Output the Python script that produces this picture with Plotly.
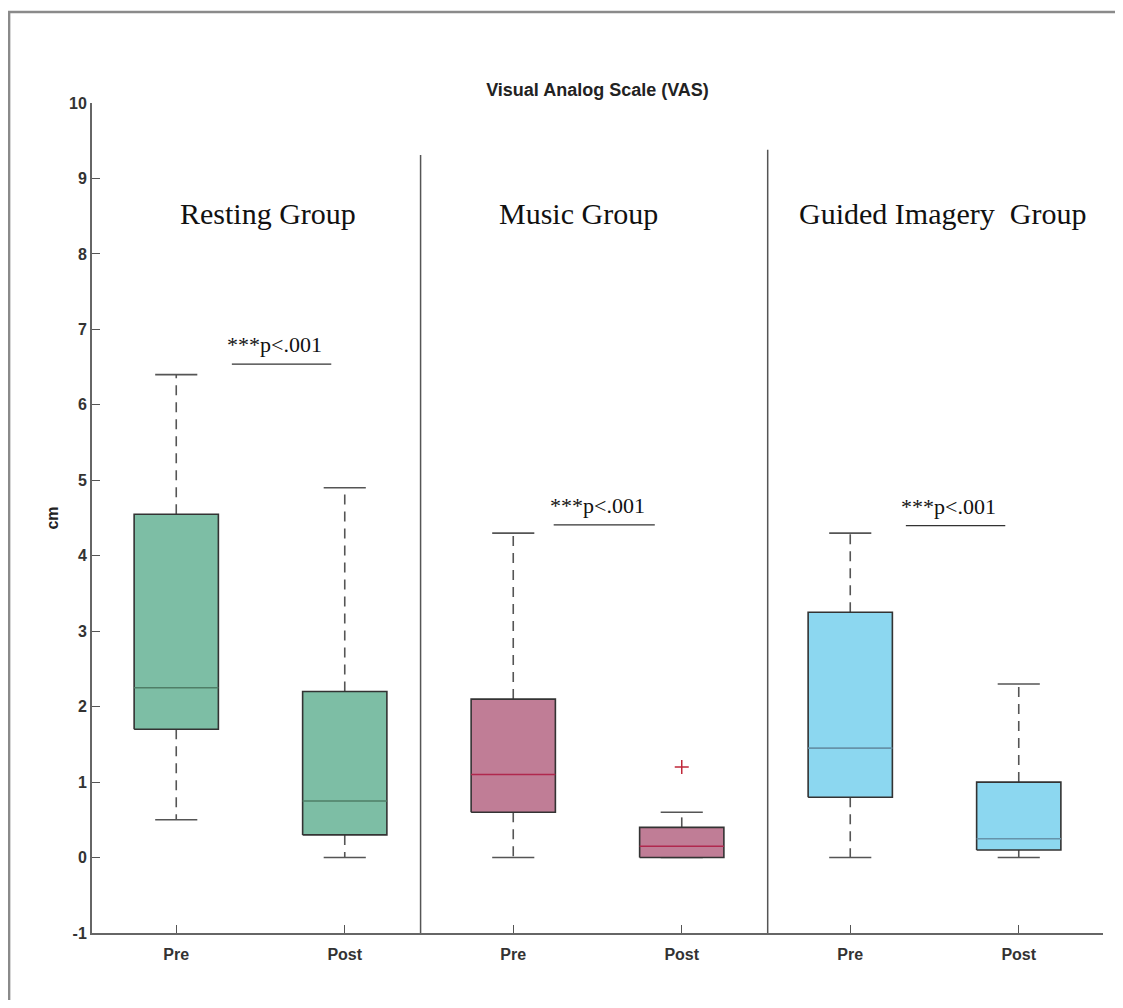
import plotly.graph_objects as go

# ---- data ----
groups = ["Resting Group", "Music Group", "Guided Imagery  Group"]
conditions = ["Pre", "Post", "Pre", "Post", "Pre", "Post"]
positions = [1, 2, 3, 4, 5, 6]
lower_whisker = [0.5, 0.0, 0.0, 0.0, 0.0, 0.0]
q1 = [1.70, 0.30, 0.60, 0.00, 0.80, 0.10]
median = [2.25, 0.75, 1.10, 0.15, 1.45, 0.25]
q3 = [4.55, 2.20, 2.10, 0.40, 3.25, 1.00]
upper_whisker = [6.40, 4.90, 4.30, 0.60, 4.30, 2.30]
outlier_pos = [4]
outlier_val = [1.20]
sig_text = ["***p<.001", "***p<.001", "***p<.001"]
sig_level = [6.54, 4.41, 4.40]
sig_start = [1.33, 3.24, 5.33]
sig_end = [1.92, 3.84, 5.92]
group_label_x = [1.545, 3.39, 5.55]
group_label_y = [8.54, 8.54, 8.54]
divider_x = [2.45, 4.51]
divider_top = [9.31, 9.38]

fills = ["#7DBEA5", "#7DBEA5", "#C07D96", "#C07D96", "#8CD7F0", "#8CD7F0"]
median_colors = ["#4F7E67", "#4F7E67", "#B0284E", "#B0284E", "#6693AA", "#6693AA"]

box_half = 0.25
cap_half = 0.125

fig = go.Figure()

for i, p in enumerate(positions):
    # whiskers (dashed)
    fig.add_trace(go.Scatter(
        x=[p, p, None, p, p], y=[q3[i], upper_whisker[i], None, q1[i], lower_whisker[i]],
        mode="lines", line=dict(color="#555555", width=1.6, dash="10px,7px"),
        hoverinfo="skip", showlegend=False))
    # caps
    fig.add_trace(go.Scatter(
        x=[p - cap_half, p + cap_half, None, p - cap_half, p + cap_half],
        y=[upper_whisker[i], upper_whisker[i], None, lower_whisker[i], lower_whisker[i]],
        mode="lines", line=dict(color="#555555", width=1.6),
        hoverinfo="skip", showlegend=False))
    # box
    fig.add_trace(go.Scatter(
        x=[p - box_half, p + box_half, p + box_half, p - box_half, p - box_half],
        y=[q1[i], q1[i], q3[i], q3[i], q1[i]],
        mode="lines", fill="toself", fillcolor=fills[i],
        line=dict(color="#333333", width=1.6),
        hoverinfo="skip", showlegend=False))
    # median
    fig.add_trace(go.Scatter(
        x=[p - box_half, p + box_half], y=[median[i], median[i]],
        mode="lines", line=dict(color=median_colors[i], width=1.6),
        hoverinfo="skip", showlegend=False))

# outliers
fig.add_trace(go.Scatter(
    x=outlier_pos, y=outlier_val, mode="markers",
    marker=dict(symbol="cross-thin", size=10, line=dict(color="#C0283A", width=1.5)),
    hoverinfo="skip", showlegend=False))

# significance lines
for k in range(len(sig_text)):
    fig.add_trace(go.Scatter(
        x=[sig_start[k], sig_end[k]], y=[sig_level[k], sig_level[k]],
        mode="lines", line=dict(color="#333333", width=1.3),
        hoverinfo="skip", showlegend=False))
    fig.add_annotation(
        x=(sig_start[k] + sig_end[k]) / 2 - 0.04, y=sig_level[k], text=sig_text[k],
        showarrow=False, yanchor="bottom", yshift=5,
        font=dict(family="Liberation Serif", size=22, color="#111111"))

# group labels
for k, g in enumerate(groups):
    fig.add_annotation(
        x=group_label_x[k], y=group_label_y[k], text=g.replace("  ", "&nbsp; "),
        showarrow=False, font=dict(family="Liberation Serif", size=30, color="#111111"))

# dividers
for k, dx in enumerate(divider_x):
    fig.add_shape(type="line", xref="x", yref="y", x0=dx, x1=dx, y0=-1, y1=divider_top[k],
                  line=dict(color="#555555", width=1.5))

# outer frame
fig.add_shape(type="rect", xref="paper", yref="paper",
              x0=-0.082, x1=1.1, y0=-0.3, y1=1.1096,
              line=dict(color="#8A8A8A", width=2.5), layer="below")

fig.update_layout(
    width=1107, height=992,
    margin=dict(l=84, r=12, t=95, b=67),
    paper_bgcolor="white", plot_bgcolor="white",
    title=dict(text="<b>Visual Analog Scale (VAS)</b>", x=0.5, xanchor="center",
               xref="paper", y=1, yref="paper", yanchor="bottom", pad=dict(b=7),
               font=dict(family="Liberation Sans", size=18, color="#222222")),
    xaxis=dict(range=[0.5, 6.5], tickvals=positions, ticktext=["<b>%s</b>" % c for c in conditions],
               showgrid=False, zeroline=False, showline=True, linecolor="#666666", linewidth=2,
               ticks="inside", ticklen=8, tickcolor="#555555", tickwidth=1.3,
               ticklabelstandoff=6,
               tickfont=dict(family="Liberation Sans", size=16, color="#333333")),
    yaxis=dict(range=[-1, 10], tickvals=list(range(-1, 11)),
               ticktext=["<b>%d</b>" % v for v in range(-1, 11)],
               showgrid=False, zeroline=False, showline=True, linecolor="#666666", linewidth=2,
               ticks="inside", ticklen=8, tickcolor="#555555", tickwidth=1.3,
               tickfont=dict(family="Liberation Sans", size=16, color="#333333"),
               title=dict(text="<b>cm</b>", standoff=6,
                          font=dict(family="Liberation Sans", size=16, color="#222222"))),
)

fig.write_html("out.html")
